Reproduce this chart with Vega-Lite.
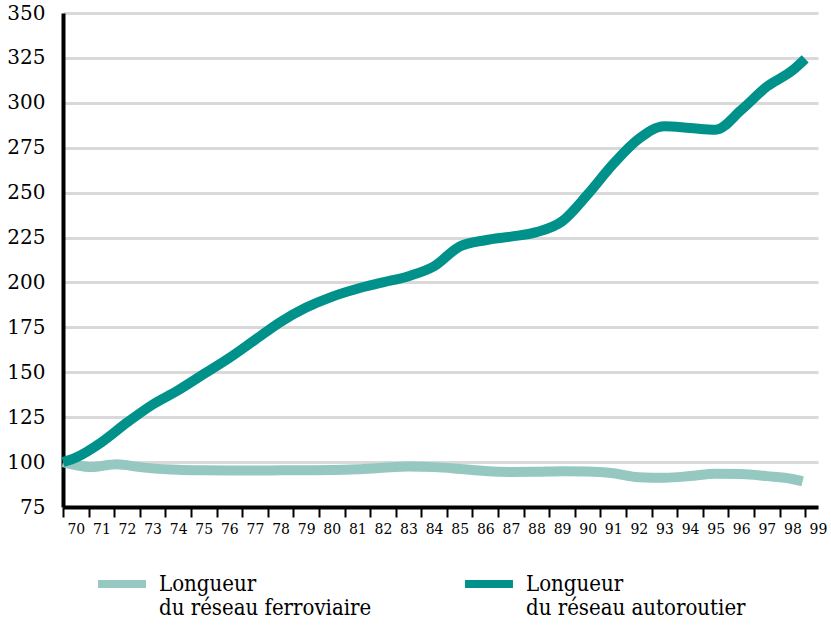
{
  "$schema": "https://vega.github.io/schema/vega-lite/v6.json",
  "width": 755,
  "height": 494,
  "autosize": {"type": "none"},
  "padding": {"left": 63, "top": 13, "right": 13, "bottom": 121},
  "background": "white",
  "config": {"view": {"stroke": null}, "font": "DejaVu Serif"},
  "data": {
    "values": [
      {"series": "ferroviaire", "year": 69.5, "value": 100},
      {"series": "ferroviaire", "year": 70, "value": 98.3},
      {"series": "ferroviaire", "year": 70.6, "value": 97.2},
      {"series": "ferroviaire", "year": 71.6, "value": 98.8},
      {"series": "ferroviaire", "year": 72.5, "value": 97.2},
      {"series": "ferroviaire", "year": 73, "value": 96.5},
      {"series": "ferroviaire", "year": 74, "value": 95.7},
      {"series": "ferroviaire", "year": 75, "value": 95.4},
      {"series": "ferroviaire", "year": 76, "value": 95.3},
      {"series": "ferroviaire", "year": 77, "value": 95.3},
      {"series": "ferroviaire", "year": 78, "value": 95.4},
      {"series": "ferroviaire", "year": 79, "value": 95.5},
      {"series": "ferroviaire", "year": 80, "value": 95.6},
      {"series": "ferroviaire", "year": 81, "value": 96.0},
      {"series": "ferroviaire", "year": 82, "value": 96.8},
      {"series": "ferroviaire", "year": 83, "value": 97.5},
      {"series": "ferroviaire", "year": 84, "value": 97.2},
      {"series": "ferroviaire", "year": 85, "value": 96.2},
      {"series": "ferroviaire", "year": 86, "value": 95.0},
      {"series": "ferroviaire", "year": 87, "value": 94.5},
      {"series": "ferroviaire", "year": 88, "value": 94.6},
      {"series": "ferroviaire", "year": 89, "value": 94.9},
      {"series": "ferroviaire", "year": 90, "value": 94.8},
      {"series": "ferroviaire", "year": 91, "value": 93.8},
      {"series": "ferroviaire", "year": 92, "value": 91.6},
      {"series": "ferroviaire", "year": 93, "value": 91.3},
      {"series": "ferroviaire", "year": 94, "value": 92.2},
      {"series": "ferroviaire", "year": 95, "value": 93.5},
      {"series": "ferroviaire", "year": 96, "value": 93.4},
      {"series": "ferroviaire", "year": 97, "value": 92.2},
      {"series": "ferroviaire", "year": 98, "value": 90.6},
      {"series": "ferroviaire", "year": 98.4, "value": 89.3},
      {"series": "autoroutier", "year": 69.5, "value": 100},
      {"series": "autoroutier", "year": 70, "value": 102.5},
      {"series": "autoroutier", "year": 71, "value": 111},
      {"series": "autoroutier", "year": 72, "value": 122},
      {"series": "autoroutier", "year": 73, "value": 132},
      {"series": "autoroutier", "year": 74, "value": 140},
      {"series": "autoroutier", "year": 75, "value": 149},
      {"series": "autoroutier", "year": 76, "value": 158},
      {"series": "autoroutier", "year": 77, "value": 168},
      {"series": "autoroutier", "year": 78, "value": 178},
      {"series": "autoroutier", "year": 79, "value": 186},
      {"series": "autoroutier", "year": 80, "value": 192},
      {"series": "autoroutier", "year": 81, "value": 196.5},
      {"series": "autoroutier", "year": 82, "value": 200},
      {"series": "autoroutier", "year": 83, "value": 203.5},
      {"series": "autoroutier", "year": 84, "value": 209},
      {"series": "autoroutier", "year": 85, "value": 220},
      {"series": "autoroutier", "year": 86, "value": 223.5},
      {"series": "autoroutier", "year": 87, "value": 225.5},
      {"series": "autoroutier", "year": 88, "value": 228},
      {"series": "autoroutier", "year": 89, "value": 234},
      {"series": "autoroutier", "year": 90, "value": 249},
      {"series": "autoroutier", "year": 91, "value": 266},
      {"series": "autoroutier", "year": 92, "value": 280},
      {"series": "autoroutier", "year": 93, "value": 287},
      {"series": "autoroutier", "year": 94, "value": 286},
      {"series": "autoroutier", "year": 95, "value": 285},
      {"series": "autoroutier", "year": 96, "value": 296},
      {"series": "autoroutier", "year": 97, "value": 309},
      {"series": "autoroutier", "year": 98, "value": 318},
      {"series": "autoroutier", "year": 98.5, "value": 324.5}
    ]
  },
  "mark": {"type": "line", "strokeWidth": 10, "interpolate": "monotone", "strokeCap": "butt"},
  "encoding": {
    "x": {
      "field": "year",
      "type": "quantitative",
      "scale": {"domain": [69.5, 99], "nice": false, "zero": false},
      "axis": {
        "title": null,
        "values": [70,71,72,73,74,75,76,77,78,79,80,81,82,83,84,85,86,87,88,89,90,91,92,93,94,95,96,97,98,99],
        "labelExpr": "datum.value",
        "grid": false,
        "domainColor": "black",
        "domainWidth": 4,
        "tickColor": "black",
        "tickWidth": 2,
        "tickSize": 10,
        "tickOffset": -12.8,
        "labelOffset": 12.8,
        "labelFont": "DejaVu Serif",
        "labelFontSize": 14,
        "labelColor": "black",
        "labelPadding": 5,
        "labelFlush": false,
        "labelOverlap": false
      }
    },
    "y": {
      "field": "value",
      "type": "quantitative",
      "scale": {"domain": [75, 350], "nice": false, "zero": false},
      "axis": {
        "title": null,
        "values": [75,100,125,150,175,200,225,250,275,300,325,350],
        "grid": true,
        "gridColor": "#d9d9d9",
        "gridWidth": 3,
        "domainColor": "black",
        "domainWidth": 4,
        "ticks": false,
        "labelFont": "DejaVu Serif",
        "labelFontSize": 20,
        "labelColor": "black",
        "labelPadding": 18,
        "labelFlush": false,
        "labelOverlap": false
      }
    },
    "color": {
      "field": "series",
      "type": "nominal",
      "scale": {"domain": ["ferroviaire", "autoroutier"], "range": ["#96c8c2", "#00918a"]},
      "legend": {
        "title": null,
        "orient": "none",
        "legendX": 31,
        "legendY": 543,
        "direction": "horizontal",
        "columns": 2,
        "columnPadding": 77,
        "symbolType": "stroke",
        "symbolSize": 2300,
        "symbolStrokeWidth": 8,
        "labelFont": "DejaVu Serif Condensed",
        "labelFontSize": 22,
        "labelColor": "black",
        "labelOffset": 9,
        "labelBaseline": "middle",
        "labelLimit": 400,
        "labelExpr": "['Longueur', 'du réseau ' + datum.label]"
      }
    },
    "order": {"field": "year", "type": "quantitative"}
  }
}
